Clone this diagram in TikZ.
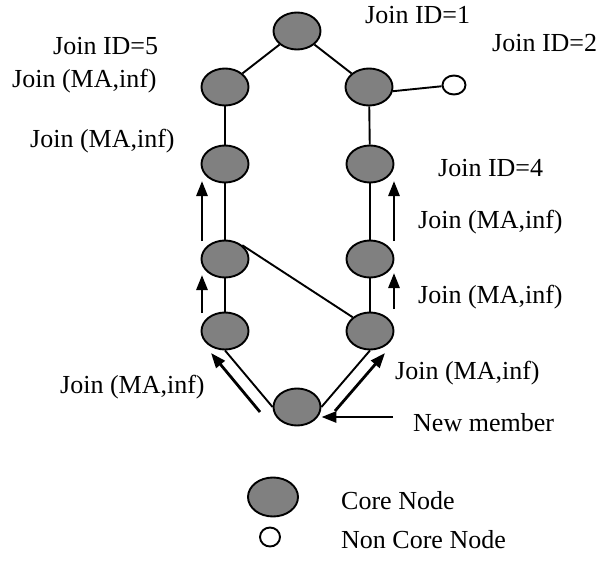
\documentclass[tikz,border=0pt]{standalone}
\usepackage{fontspec}
\setmainfont{Liberation Serif}
\usetikzlibrary{arrows.meta,shapes.geometric}
\begin{document}
\begin{tikzpicture}[x=1pt,y=-1pt,
  core/.style={ellipse,draw=black,line width=1.9pt,fill=gray,minimum width=47pt,minimum height=37pt,inner sep=0pt},
  noncore/.style={ellipse,draw=black,line width=1.9pt,fill=white,minimum width=23pt,minimum height=19pt,inner sep=0pt},
  link/.style={line width=1.9pt},
  flow/.style={line width=2.8pt,-{Triangle[length=15pt,width=11pt]}},
  lbl/.style={font=\fontsize{26}{30}\selectfont,inner sep=0pt,anchor=base west}]
\useasboundingbox (0,0) rectangle (609,569);
% core nodes
\node[core] (t)  at (297,31) {};
\node[core] (l2) at (225,87) {};
\node[core] (r2) at (369,87) {};
\node[noncore] (nc) at (454,85) {};
\node[core] (l3) at (225,164) {};
\node[core] (r3) at (370,164) {};
\node[core] (l4) at (225,259) {};
\node[core] (r4) at (370,259) {};
\node[core] (l5) at (225,331) {};
\node[core] (r5) at (370,331) {};
\node[core] (b)  at (297,407) {};
% links
\draw[link] (t) -- (l2);
\draw[link] (t) -- (r2);
\draw[link] (r2.-10) -- (nc);
\draw[link] (l2) -- (l3);
\draw[link] (r2) -- (r3);
\draw[link] (l3) -- (l4);
\draw[link] (r3) -- (r4);
\draw[link] (l4) -- (l5);
\draw[link] (r4) -- (r5);
\draw[link] (l4.north east) -- (r5.north west);
\draw[link] (b.west) -- (l5.south);
\draw[link] (b.east) -- (r5.south);
% arrows
\coordinate (a1s) at (202,241); \coordinate (a1e) at (202,181);
\coordinate (a2s) at (202,313); \coordinate (a2e) at (202,275);
\coordinate (a3s) at (394,241); \coordinate (a3e) at (394,181);
\coordinate (a4s) at (394,309); \coordinate (a4e) at (394,273);
\coordinate (a5s) at (260,412); \coordinate (a5e) at (211,353);
\coordinate (a6s) at (335,411); \coordinate (a6e) at (385,353);
\coordinate (a7s) at (393,417);
\draw[flow] (a1s) -- (a1e);
\draw[flow] (a2s) -- (a2e);
\draw[flow] (a3s) -- (a3e);
\draw[flow] (a4s) -- (a4e);
\draw[flow] (a5s) -- (a5e);
\draw[flow] (a6s) -- (a6e);
\draw[flow] (a7s) -- (b.east |- a7s);
% labels
\node[lbl] (t1) at (365,24) {Join ID=1};
\node[lbl] (t2) at (492,52) {Join ID=2};
\node[lbl] (t5) at (53,55) {Join ID=5};
\node[lbl] (m1) at (12,88) {Join (MA,inf)};
\node[lbl] (m2) at (30,148) {Join (MA,inf)};
\node[lbl] (t4) at (438,177) {Join ID=4};
\node[lbl] (m3) at (418,228) {Join (MA,inf)};
\node[lbl] (m4) at (418,303) {Join (MA,inf)};
\node[lbl] (m5) at (395,379) {Join (MA,inf)};
\node[lbl] (m6) at (60,393) {Join (MA,inf)};
\node[lbl] (nm) at (413,431) {New member};
% legend
\node[core,minimum width=50pt,minimum height=39pt] (lc) at (273,497) {};
\node[lbl] (lct) at (341,509) {Core Node};
\node[noncore,minimum width=20pt,minimum height=19pt] (ln) at (270,537) {};
\node[lbl] (lnt) at (341,548) {Non Core Node};
\end{tikzpicture}
\end{document}
